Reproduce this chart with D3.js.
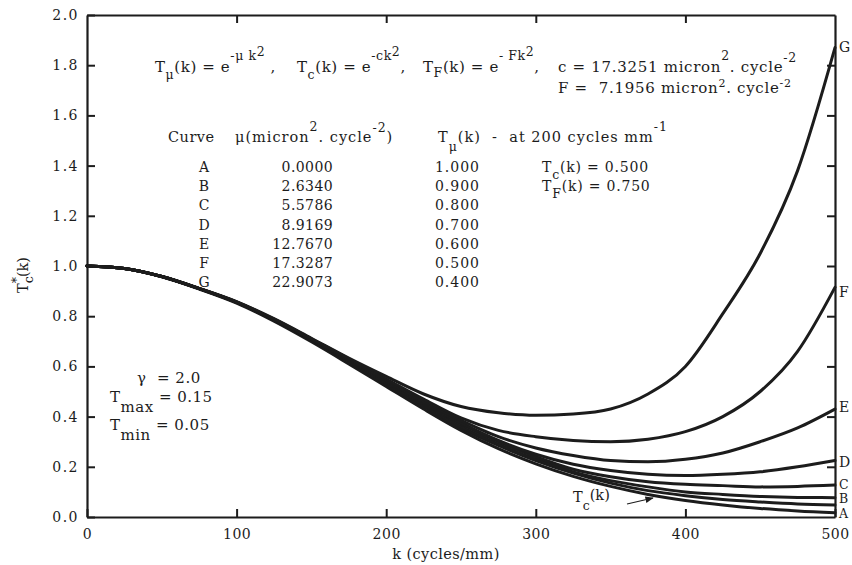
<!DOCTYPE html>
<html><head><meta charset="utf-8">
<script src="https://cdn.jsdelivr.net/npm/d3@7"></script>
<style>
html,body{margin:0;padding:0;background:#fff;}
text{font-family:"DejaVu Serif","Liberation Serif",serif;fill:#1c1c1c;white-space:pre;}
</style></head>
<body><svg id="c" width="852" height="565"></svg>
<script>
// ---- data ----
const kValues = [0,25,50,75,100,125,150,175,200,225,250,275,300,325,350,375,400,425,450,475,500];
const curveA = [1.0,0.99,0.958,0.91,0.855,0.785,0.704,0.618,0.525,0.44,0.355,0.285,0.225,0.175,0.135,0.105,0.085,0.07,0.06,0.052,0.048];
const curveB = [1.0,0.99,0.958,0.91,0.855,0.785,0.705,0.621,0.53,0.445,0.36,0.29,0.23,0.18,0.145,0.12,0.10,0.09,0.082,0.078,0.077];
const curveC = [1.0,0.99,0.958,0.91,0.855,0.786,0.707,0.624,0.535,0.45,0.37,0.30,0.24,0.19,0.16,0.14,0.13,0.125,0.12,0.122,0.127];
const curveD = [1.0,0.99,0.958,0.91,0.856,0.786,0.708,0.626,0.54,0.455,0.375,0.305,0.25,0.21,0.185,0.17,0.165,0.17,0.18,0.20,0.225];
const curveE = [1.0,0.99,0.958,0.91,0.856,0.787,0.709,0.628,0.545,0.46,0.385,0.32,0.275,0.245,0.225,0.22,0.23,0.255,0.30,0.355,0.43];
const curveF = [1.0,0.99,0.958,0.91,0.857,0.788,0.71,0.63,0.55,0.47,0.395,0.345,0.32,0.305,0.30,0.31,0.34,0.40,0.50,0.66,0.915];
const curveG = [1.0,0.99,0.958,0.911,0.858,0.79,0.712,0.633,0.56,0.49,0.44,0.415,0.405,0.41,0.43,0.49,0.60,0.81,1.05,1.38,1.87];
const curveTc = [1.0,0.99,0.957,0.908,0.852,0.78,0.698,0.61,0.52,0.43,0.345,0.272,0.212,0.162,0.122,0.09,0.066,0.048,0.034,0.024,0.017];
const curveNames = ["A","B","C","D","E","F","G"];
const curveList = [curveA,curveB,curveC,curveD,curveE,curveF,curveG];
const xTicks = [0,100,200,300,400,500];
const xTickLabels = ["0","100","200","300","400","500"];
const yTicks = [0,0.2,0.4,0.6,0.8,1.0,1.2,1.4,1.6,1.8,2.0];
const yTickLabels = ["0.0","0.2","0.4","0.6","0.8","1.0","1.2","1.4","1.6","1.8","2.0"];
const tableMu = ["0.0000","2.6340","5.5786","8.9169","12.7670","17.3287","22.9073"];
const tableT = ["1.000","0.900","0.800","0.700","0.600","0.500","0.400"];

// ---- layout ----
const svg = d3.select("#c");
const L=87, R=835, T=15, B=517;
const x = d3.scaleLinear().domain([0,500]).range([L,R]);
const y = d3.scaleLinear().domain([0,2]).range([B,T]);
const ink = "#1c1c1c";

function styleAxis(g){
  g.selectAll(".domain").attr("stroke",ink).attr("stroke-width",2.2);
  g.selectAll(".tick line").attr("stroke",ink).attr("stroke-width",2);
  g.selectAll(".tick text").attr("font-size",14).attr("letter-spacing","1.5px").attr("fill",ink)
   .style("font-family",'"DejaVu Serif",serif');
}
svg.append("g").attr("transform",`translate(0,${B})`)
  .call(d3.axisBottom(x).tickValues(xTicks).tickFormat((d,i)=>xTickLabels[i]).tickSize(-8).tickSizeOuter(0).tickPadding(12))
  .call(styleAxis).selectAll(".tick text").attr("letter-spacing","0.5px");
svg.append("g").attr("transform",`translate(0,${T})`)
  .call(d3.axisTop(x).tickValues([100,200,300,400]).tickFormat("").tickSize(-8).tickSizeOuter(0)).call(styleAxis);
svg.append("g").attr("transform",`translate(${L},0)`)
  .call(d3.axisLeft(y).tickValues(yTicks).tickFormat((d,i)=>yTickLabels[i]).tickSize(-8).tickSizeOuter(0).tickPadding(8))
  .call(styleAxis);
svg.append("g").attr("transform",`translate(${R},0)`)
  .call(d3.axisRight(y).tickValues(yTicks.slice(1,-1)).tickFormat("").tickSize(-8).tickSizeOuter(0)).call(styleAxis);

// ---- curves ----
const line = d3.line().x((d,i)=>x(kValues[i])).y(d=>y(d)).curve(d3.curveMonotoneX);
const plot = svg.append("g");
[curveTc, ...curveList].forEach(c=>{
  plot.append("path").datum(c).attr("d",line).attr("fill","none")
    .attr("stroke",ink).attr("stroke-width",3).attr("stroke-linecap","round");
});

// ---- rich text helper ----
function rich(xp, yp, parts, size, anchor, g, ls){
  const t = (g||svg).append("text").attr("x",xp).attr("y",yp).attr("font-size",size||14)
     .attr("text-anchor",anchor||"start");
  if(ls) t.attr("letter-spacing",ls);
  let cur = 0;
  parts.forEach(p=>{
    const txt=p[0], sh=p[1]||0, sz=p[2], dx=p[3];
    const ts = t.append("tspan").attr("dy",sh-cur).text(txt);
    if(sz) ts.attr("font-size",sz);
    if(dx) ts.attr("dx",dx);
    cur = sh;
  });
  return t;
}
const S=12.5;
// formulas, line 1
rich(155,72,[["T"],["μ",7,S],["(k) = e",0],["-μ k",-12,S],["2",-16,S],[" ,",0]],15,"start",null,"0.6px");
rich(297,72,[["T"],["c",7,S],["(k) = e",0],["-ck",-12,S],["2",-16,S],[",",0]],15,"start",null,"0.6px");
rich(423,72,[["T"],["F",5,S],["(k) = e",0],["- Fk",-12,S],["2",-16,S],[",",0]],15,"start",null,"0.6px");
rich(558,72,[["c = 17.3251 micron"],["2",-12,S],[". cycle",0],["-2",-10,S]],15,"start",null,"0.7px");
rich(558,93,[["F =  7.1956 micron"],["2",-6,11],[". cycle",0],["-2",-6,11]],15,"start",null,"0.7px");

// table header
rich(168,142,[["Curve"]],14.5,"start",null,"0.5px");
rich(235,142,[["μ(micron"],["2",-11,S],[". cycle",0],["-2",-10,S],[")",0]],14.5,"start",null,"1px");
rich(438,142,[["T"],["μ",9,S],["(k)",0],["  -  at 200 cycles mm",0],["-1",-11,S]],14.5,"start",null,"1px");
const rowY = d3.range(7).map(i=>172+i*19.2);
curveNames.forEach((n,i)=>{
  rich(204,rowY[i],[[n]],14,"middle");
  rich(333,rowY[i],[[tableMu[i]]],14,"end",null,"0.4px");
  rich(480,rowY[i],[[tableT[i]]],14,"end",null,"1px");
});
rich(542,rowY[0],[["T"],["c",7,S],["(k) = 0.500",0]],14,"start",null,"0.8px");
rich(542,rowY[1],[["T"],["F",7,S],["(k) = 0.750",0]],14,"start",null,"0.8px");

// parameters lower left
rich(137,383,[["γ"],["  = 2.0",0]],15,"start",null,"0.5px");
rich(110,402,[["T"],["max",10,15],[" = 0.15",0]],15,"start",null,"0.5px");
rich(110,430,[["T"],["min",10,15],[" = 0.05",0]],15,"start",null,"0.5px");

// curve end labels
const endY = {G:52,F:297,E:412,D:467,C:489,B:503,A:518};
curveNames.forEach(n=>rich(839,endY[n],[[n]],n<"D"?12.5:14));

// T_c(k) label with arrow
rich(573,502,[["T"],["c",8,S],["(k)",-2]],14.5);
svg.append("defs").append("marker").attr("id","ah").attr("viewBox","0 0 10 10")
  .attr("refX",9).attr("refY",5).attr("markerWidth",7).attr("markerHeight",7).attr("orient","auto")
  .append("path").attr("d","M0,1 L10,5 L0,9 Z").attr("fill",ink);
svg.append("line").attr("x1",627).attr("y1",504).attr("x2",653).attr("y2",498)
  .attr("stroke",ink).attr("stroke-width",1.2).attr("marker-end","url(#ah)");

// axis titles
rich(446,559,[["k (cycles/mm)"]],14.5,"middle",null,"0.4px");
const yt = svg.append("g").attr("transform","translate(28,275) rotate(-90)");
rich(0,0,[["T"],["c",5,S],["*",-7,S,-7],["(k)",0]],14.5,"middle",yt);
</script></body></html>
